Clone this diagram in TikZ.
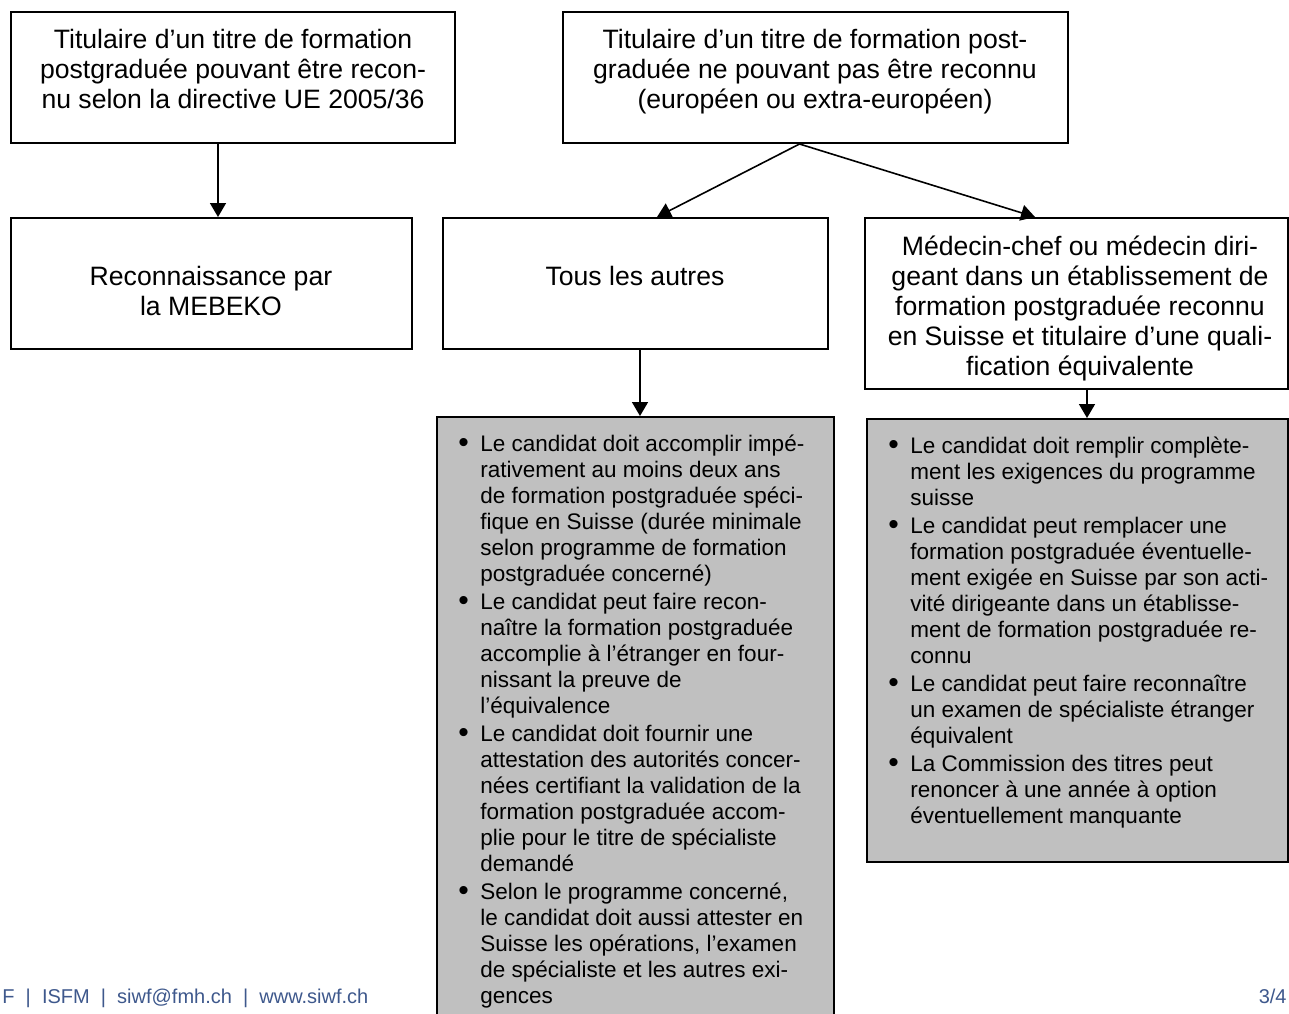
\documentclass[tikz,border=0pt]{standalone}
\usepackage{fontspec}
\setmainfont{Liberation Sans}
\usetikzlibrary{arrows.meta,fit,calc}
\definecolor{siwfblue}{RGB}{62,88,140}
\definecolor{boxgray}{RGB}{192,192,192}
\newcommand{\bigfont}{\fontsize{13.3}{15}\selectfont}
\newcommand{\listfont}{\fontsize{11.25}{13}\selectfont}
\newcommand{\puce}{\raisebox{-0.3pt}{\fontsize{15}{13}\selectfont\textbullet}}
\begin{document}
\begin{tikzpicture}[x=0.5pt,y=-0.5pt,
  box/.style={draw,line width=1pt,inner sep=0pt},
  graybox/.style={box,fill=boxgray},
  boxtext/.style={align=center,font=\bigfont,inner sep=0pt},
  listtext/.style={anchor=north west,font=\listfont,inner sep=0pt},
  arr/.style={line width=0.8pt,-{Triangle[length=7pt,width=8pt]}},
  foot/.style={font=\fontsize{10}{12}\selectfont,text=siwfblue,inner sep=0pt}]
\useasboundingbox (0,0) rectangle (1289,1013);
% top row
\node[box,fit={(11,12) (455,143)}] (titreA) {};
\node[boxtext] (titreAtxt) at (233,69) {Titulaire d’un titre de formation\\postgraduée pouvant être recon-\\nu selon la directive UE 2005/36};
\node[box,fit={(563,12) (1068,143)}] (titreB) {};
\node[boxtext] (titreBtxt) at (815,72) {Titulaire d’un titre de formation post-\\graduée ne pouvant pas être reconnu\\(européen ou extra-européen)};
% second row
\node[box,fit={(11,218) (412,349)}] (recon) {};
\node[boxtext] (recontxt) at (211,291) {Reconnaissance par\\la MEBEKO};
\node[box,fit={(443,218) (828,349)}] (tous) {};
\node[boxtext] (toustxt) at (635,276) {Tous les autres};
\node[box,fit={(865,218) (1288,389)}] (chef) {};
\node[boxtext] (cheftxt) at (1080,308) {Médecin-chef ou médecin diri-\\geant dans un établissement de\\formation postgraduée reconnu\\en Suisse et titulaire d’une quali-\\fication équivalente};
% gray lists
\node[graybox,fit={(437,417) (834,1040)}] (listeA) {};
\node[listtext] (listeAtxt) at (458,433) {\begin{tabular}{@{}p{11pt}@{}l@{}}
\puce & Le candidat doit accomplir impé-\\
 & rativement au moins deux ans\\
 & de formation postgraduée spéci-\\
 & fique en Suisse (durée minimale\\
 & selon programme de formation\\
 & postgraduée concerné)\\[1pt]
\puce & Le candidat peut faire recon-\\
 & naître la formation postgraduée\\
 & accomplie à l’étranger en four-\\
 & nissant la preuve de\\
 & l’équivalence\\[1pt]
\puce & Le candidat doit fournir une\\
 & attestation des autorités concer-\\
 & nées certifiant la validation de la\\
 & formation postgraduée accom-\\
 & plie pour le titre de spécialiste\\
 & demandé\\[1pt]
\puce & Selon le programme concerné,\\
 & le candidat doit aussi attester en\\
 & Suisse les opérations, l’examen\\
 & de spécialiste et les autres exi-\\
 & gences
\end{tabular}};
\node[graybox,fit={(867,419) (1288,862)}] (listeB) {};
\node[listtext] (listeBtxt) at (888,435) {\begin{tabular}{@{}p{11pt}@{}l@{}}
\puce & Le candidat doit remplir complète-\\
 & ment les exigences du programme\\
 & suisse\\[1pt]
\puce & Le candidat peut remplacer une\\
 & formation postgraduée éventuelle-\\
 & ment exigée en Suisse par son acti-\\
 & vité dirigeante dans un établisse-\\
 & ment de formation postgraduée re-\\
 & connu\\[1pt]
\puce & Le candidat peut faire reconnaître\\
 & un examen de spécialiste étranger\\
 & équivalent\\[1pt]
\puce & La Commission des titres peut\\
 & renoncer à une année à option\\
 & éventuellement manquante
\end{tabular}};
% arrows
\draw[arr] ($(titreA.south)+(-15,0)$) -- ($(recon.north)+(6.5,0)$);
\draw[arr] ($(titreB.south)+(-16,0)$) -- ($(tous.north)+(21.5,0)$);
\draw[arr] ($(titreB.south)+(-16,0)$) -- ($(chef.north)+(-41.5,0)$);
\draw[arr] ($(tous.south)+(4.5,0)$) -- ($(listeA.north)+(4.5,0)$);
\draw[arr] ($(chef.south)+(10.5,0)$) -- ($(listeB.north)+(9.5,0)$);
% footer
\node[foot,anchor=base west] (footL) at (2,1003) {F~~|~~ISFM~~|~~siwf@fmh.ch~~|~~www.siwf.ch};
\node[foot,anchor=base east] (footR) at (1287,1003) {3/4};
\end{tikzpicture}
\end{document}
